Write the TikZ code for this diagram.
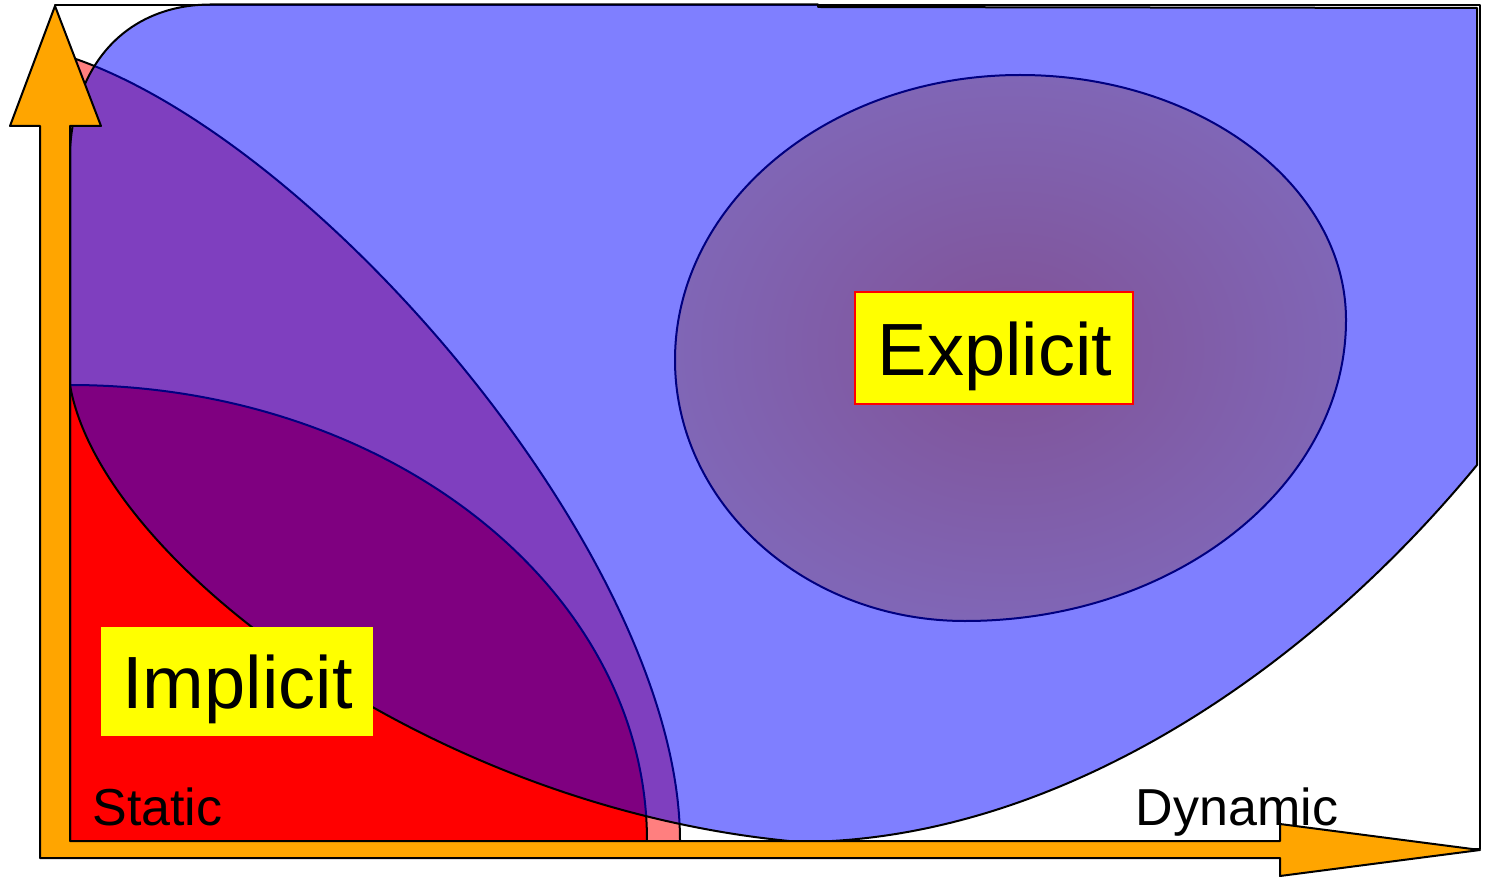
\documentclass[tikz,border=0pt]{standalone}
\usepackage{fontspec}
\setmainfont{Liberation Sans}
\definecolor{navyline}{RGB}{0,0,128}
\definecolor{axisorange}{RGB}{255,165,0}
\definecolor{labelyellow}{RGB}{255,255,0}
\definecolor{coreinner}{RGB}{128,82,150}
\definecolor{coreouter}{RGB}{128,102,182}
\begin{document}
\begin{tikzpicture}[x=1pt,y=-1pt,
  outline/.style={draw=black,line width=2pt,line join=round},
  labelbox/.style={fill=labelyellow,inner sep=0pt,minimum width=#1},
  labelbox/.default=272pt,
  axislabel/.style={font=\fontsize{52}{60}\selectfont,inner sep=0pt,anchor=base},
  biglabel/.style={font=\fontsize{74}{82}\selectfont,inner sep=0pt,anchor=base}]
\useasboundingbox (0,0) rectangle (1486,877);

% frame
\draw[outline,fill=white] (55,5) rectangle (1480,849);

% wide static region (translucent red)
\draw[outline,fill=red,fill opacity=0.5]
  (70,841) -- (70,57) .. controls (320,140) and (680,560) .. (680,841) -- cycle;

% core static region (solid red)
\draw[outline,fill=red]
  (70,841) -- (70,385) .. controls (388.7,385) and (647,588.7) .. (647,841) -- cycle;

% dynamic region (translucent blue)
\draw[outline,fill=blue,fill opacity=0.5]
  (70,385) -- (70,150) .. controls (75,60) and (130,5) .. (210,4.5)
  -- (818,4.5) -- (818,7) -- (1477,8) -- (1477,465)
  .. controls (1300,680) and (1050,841) .. (800,842)
  .. controls (430,810) and (100,560) .. (70,385) -- cycle;

% explicit core
\shadedraw[inner color=coreinner,outer color=coreouter,draw=navyline,line width=2pt]
  (675,360) .. controls (675,203) and (829,75) .. (1020,75)
  .. controls (1200,75) and (1346,185) .. (1346,320)
  .. controls (1346,486) and (1175,621) .. (965,621)
  .. controls (805,621) and (675,504) .. (675,360) -- cycle;

% labels
\node[labelbox=278pt,minimum height=112pt,draw=red,line width=2pt] (explicitbox) at (994,348) {};
\node[biglabel] (explicit) at (995,375) {Explicit};
\node[labelbox=272pt,minimum height=109pt] (implicitbox) at (237,681.5) {};
\node[biglabel] (implicit) at (237.5,708) {Implicit};
\node[axislabel] (static) at (157.5,825) {Static};
\node[axislabel] (dynamic) at (1237,825) {Dynamic};

% axes
\draw[outline,fill=axisorange]
  (40,858) -- (40,126) -- (10,126) -- (55,6) -- (101,126) -- (70,126)
  -- (70,841) -- (1280,841) -- (1280,824) -- (1480,850) -- (1280,876)
  -- (1280,858) -- cycle;
\end{tikzpicture}
\end{document}
